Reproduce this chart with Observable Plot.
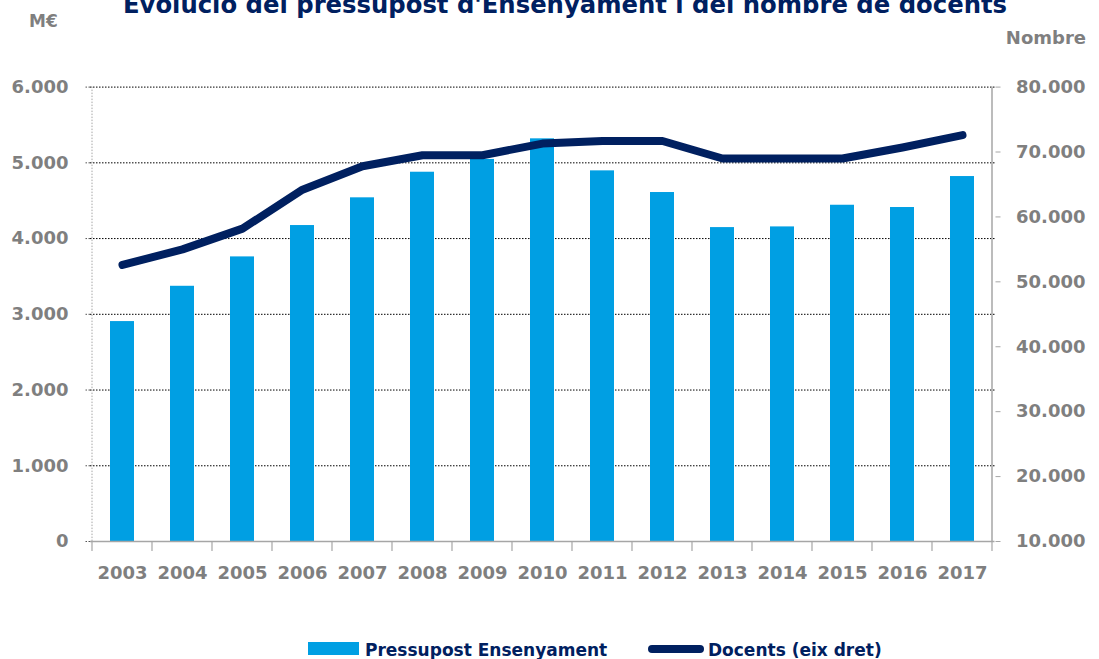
<!DOCTYPE html>
<html><head><meta charset="utf-8">
<script src="https://cdn.jsdelivr.net/npm/d3@7"></script>
<script src="https://cdn.jsdelivr.net/npm/@observablehq/plot@0.6"></script>
<style>html,body{margin:0;padding:0;background:#fff}svg{display:block}</style>
</head><body><div id="chart"></div>
<script>
const years = ["2003","2004","2005","2006","2007","2008","2009","2010","2011","2012","2013","2014","2015","2016","2017"];
const pressupost = [2904, 3370, 3758, 4172, 4538, 4876, 5045, 5317, 4894, 4608, 4145, 4154, 4440, 4410, 4819];
const docents = [52600, 55000, 58200, 64200, 67800, 69500, 69500, 71300, 71700, 71700, 69000, 69000, 69000, 70700, 72600];
const leftTicks = [0, 1000, 2000, 3000, 4000, 5000, 6000];
const rightTicks = [10000, 20000, 30000, 40000, 50000, 60000, 70000, 80000];
const titleText = "Evolució del pressupost d'Ensenyament i del nombre de docents";
const leftUnit = "M€";
const rightUnit = "Nombre";
const legendBars = "Pressupost Ensenyament";
const legendLine = "Docents (eix dret)";

const barColor = "#009FE3", lineColor = "#002060", grey = "#7f7f7f", axisGrey = "#a6a6a6";
const loc = d3.formatLocale({decimal: ",", thousands: ".", grouping: [3], currency: ["", "€"]});
const fmt = loc.format(",d");
const toLeft = v => (v - 10000) / 70000 * 6000;
const fromLeft = v => Math.round(v * 70000 / 6000 + 10000);

const data = years.map((y, i) => ({year: y, pressupost: pressupost[i], docentsL: toLeft(docents[i])}));

const W = 1099, H = 659, mT = 86.6, mB = 118, mL = 90, mR = 104.5;
const plot = Plot.plot({
  width: W, height: H, marginTop: mT, marginBottom: mB, marginLeft: mL, marginRight: mR,
  style: {fontFamily: "DejaVu Sans", fontSize: "18px", fontWeight: "bold", color: grey, background: "#fff", overflow: "visible"},
  x: {type: "band", domain: years, paddingInner: 0.6, paddingOuter: 0.3},
  y: {domain: [0, 6000]},
  marks: [
    Plot.gridY(leftTicks.slice(1), {stroke: "#000", strokeOpacity: 1, strokeWidth: 1, strokeDasharray: "1.5,1.5"}),
    Plot.barY(data, {x: "year", y: "pressupost", fill: barColor}),
    Plot.ruleY([0], {stroke: axisGrey, strokeWidth: 1.5}),
    Plot.line(data, {x: "year", y: "docentsL", stroke: lineColor, strokeWidth: 8, strokeLinecap: "round", strokeLinejoin: "round"}),
    Plot.axisY(leftTicks, {anchor: "left", tickFormat: fmt, tickSize: 6, tickPadding: 16, label: null, stroke: "#555", strokeDasharray: "1.5,1.5", fill: grey}),
    Plot.axisY(rightTicks.map(toLeft), {anchor: "right", tickFormat: v => fmt(fromLeft(v)), tickSize: 5, tickPadding: 16, label: null, stroke: axisGrey, fill: grey}),
    Plot.axisX({anchor: "bottom", tickSize: 0, tickPadding: 25, label: null, fill: grey})
  ]
});
document.getElementById("chart").appendChild(plot);

const svg = d3.select(plot);
const xs = plot.scale("x");
const ys = plot.scale("y");
const centers = years.map(y => xs.apply(y) + xs.bandwidth / 2);
const step = centers[1] - centers[0];
const yTop = ys.apply(6000), yBot = ys.apply(0);
const xLeft = centers[0] - step / 2, xRight = centers[centers.length - 1] + step / 2;
const g = svg.append("g");
// left axis (dotted) and right axis (solid)
g.append("line").attr("x1", xLeft).attr("x2", xLeft).attr("y1", yTop).attr("y2", yBot)
  .attr("stroke", axisGrey).attr("stroke-dasharray", "1.5,1.5");
g.append("line").attr("x1", xRight).attr("x2", xRight).attr("y1", yTop).attr("y2", yBot)
  .attr("stroke", axisGrey).attr("stroke-width", 1.5);
// x ticks at band boundaries
for (let i = 0; i <= years.length; i++) {
  const x = xLeft + i * step;
  g.append("line").attr("x1", x).attr("x2", x).attr("y1", yBot).attr("y2", yBot + 10)
    .attr("stroke", axisGrey).attr("stroke-width", 1.2);
}
const font = "DejaVu Sans";
svg.append("text").attr("x", 565).attr("y", 13).attr("text-anchor", "middle")
  .attr("font-family", font).attr("font-weight", "bold").attr("font-size", 24.3).attr("fill", lineColor).text(titleText);
svg.append("text").attr("x", 29).attr("y", 27).attr("text-anchor", "start")
  .attr("font-family", font).attr("font-weight", "bold").attr("font-size", 17).attr("fill", grey).text(leftUnit);
svg.append("text").attr("x", 1086).attr("y", 44).attr("text-anchor", "end")
  .attr("font-family", font).attr("font-weight", "bold").attr("font-size", 18).attr("fill", grey).text(rightUnit);
// legend
const lg = svg.append("g").attr("font-family", font).attr("font-weight", "bold").attr("font-size", 17)
  .attr("fill", lineColor).attr("text-anchor", "start");
lg.append("rect").attr("x", 308).attr("y", 642).attr("width", 51).attr("height", 13).attr("fill", barColor);
lg.append("text").attr("x", 365).attr("y", 656).attr("text-anchor", "start").text(legendBars);
lg.append("line").attr("x1", 652).attr("x2", 700).attr("y1", 649).attr("y2", 649)
  .attr("stroke", lineColor).attr("stroke-width", 8).attr("stroke-linecap", "round");
lg.append("text").attr("x", 708).attr("y", 656).attr("text-anchor", "start").text(legendLine);
</script>
</body></html>
